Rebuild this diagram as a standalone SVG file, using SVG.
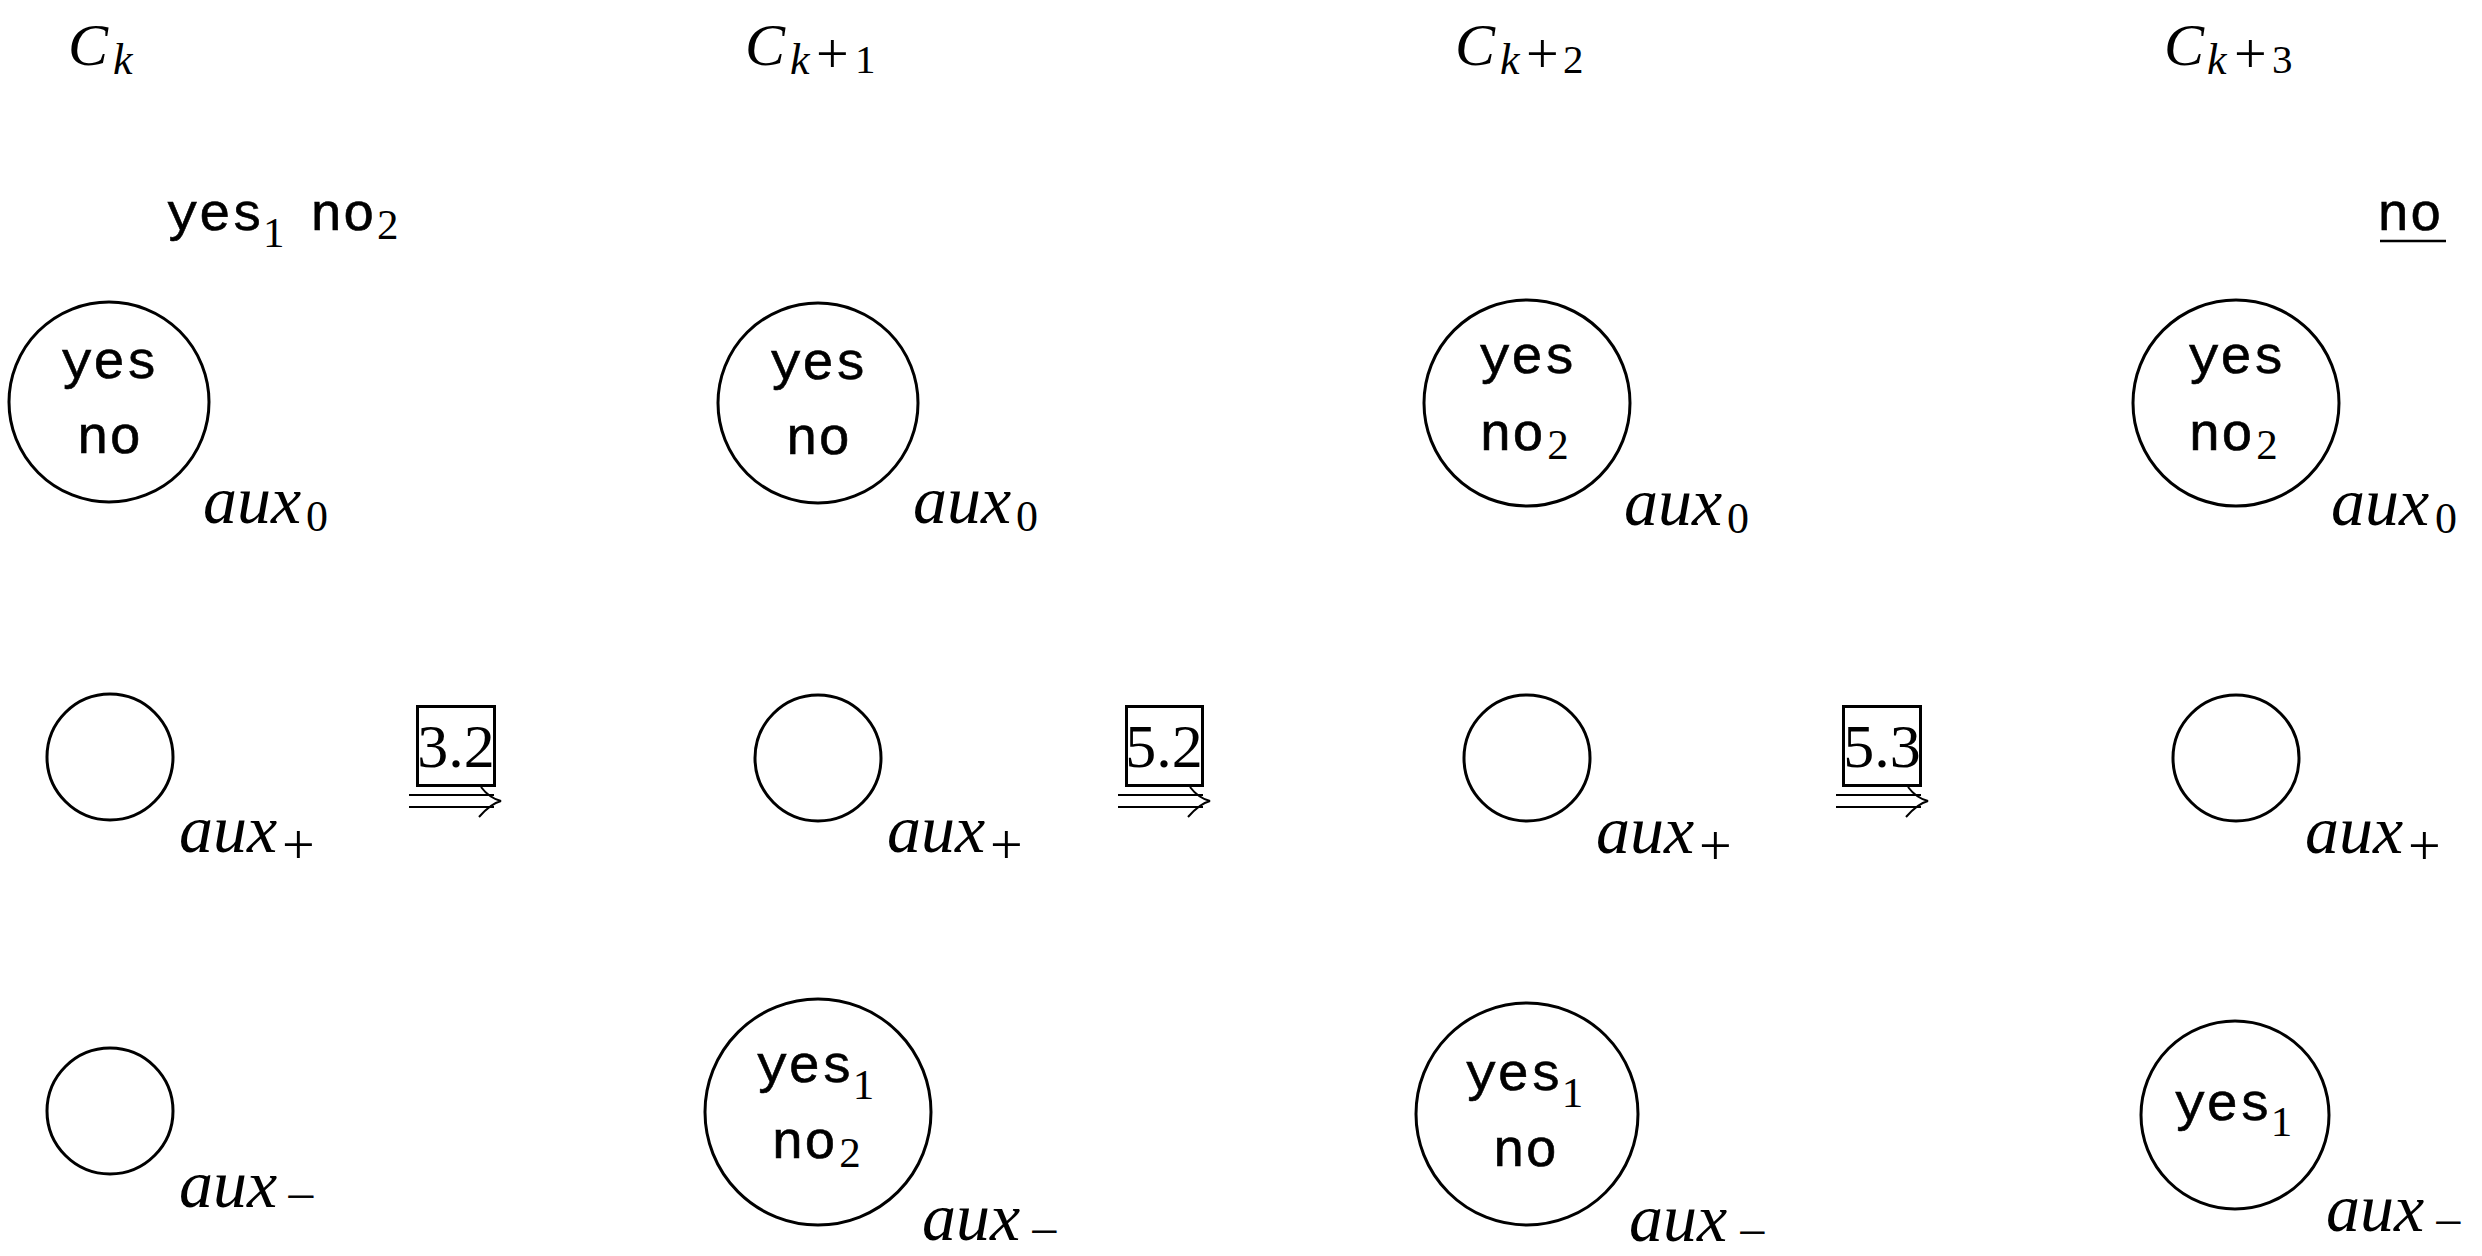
<svg xmlns="http://www.w3.org/2000/svg" xmlns:xlink="http://www.w3.org/1999/xlink" width="2482" height="1256" viewBox="0 0 2482 1256">
<style>
.mi{font-family:"Liberation Serif",serif;font-style:italic;fill:#000}
.rm{font-family:"Liberation Serif",serif;fill:#000}
.tt{font-family:"Liberation Mono",monospace;font-size:54px;fill:#000;stroke:#000;stroke-width:0.6}
.sub{font-family:"Liberation Serif",serif;font-size:43px;stroke:none}
.c{fill:none;stroke:#000;stroke-width:3}
.box{fill:none;stroke:#000;stroke-width:3}
.arr{fill:none;stroke:#000;stroke-width:2}
.aux{font-size:68px}
.C{font-size:60px}
.k{font-size:44px}
.sd{font-size:41px}
.sp{font-size:58px}
.mn{font-size:34px;stroke:#000;stroke-width:0.9}
</style>
<defs>
<g id="dblarrow">
<path class="arr" d="M409,795 H494 M409,807 H494 M481,787 C487,795 493,799 501,801 C493,803 486,809 479,817"/>
</g>
</defs>
<rect width="2482" height="1256" fill="#fff"/>

<!-- headers -->
<g id="hdr-k">
<text class="mi C" x="68" y="65">C</text><text class="mi k" x="113" y="74">k</text>
</g>
<g id="hdr-k1">
<text class="mi C" x="745" y="65">C</text><text class="mi k" x="790" y="74">k</text><text class="rm sp" x="816" y="73">+</text><text class="rm sd" x="855" y="73">1</text>
</g>
<g id="hdr-k2">
<text class="mi C" x="1455" y="65">C</text><text class="mi k" x="1500" y="74">k</text><text class="rm sp" x="1526" y="73">+</text><text class="rm sd" x="1563" y="73">2</text>
</g>
<g id="hdr-k3">
<text class="mi C" x="2164" y="65">C</text><text class="mi k" x="2207" y="74">k</text><text class="rm sp" x="2234" y="73">+</text><text class="rm sd" x="2272" y="73">3</text>
</g>

<g id="pending-k">
<text class="tt" x="166" y="230">yes</text><text class="sub" x="263" y="247">1</text>
<text class="tt" x="310" y="230">no</text><text class="sub" x="377" y="239">2</text>
</g>
<g id="pending-k3">
<text class="tt" x="2377" y="230">no</text>
<line x1="2380" y1="241" x2="2446" y2="241" stroke="#000" stroke-width="2.5"/>
</g>

<!-- column C_k -->
<g id="k-aux0">
<circle class="c" cx="109" cy="402" r="100"/>
<text class="tt" x="109" y="378" text-anchor="middle">yes</text>
<text class="tt" x="109" y="453" text-anchor="middle">no</text>
<text class="mi aux" x="203" y="523">aux</text><text class="rm k" x="306" y="531">0</text>
</g>
<g id="k-auxp">
<circle class="c" cx="110" cy="757" r="63"/>
<text class="mi aux" x="179" y="852">aux</text><text class="rm sp" x="282" y="864">+</text>
</g>
<g id="k-auxm">
<circle class="c" cx="110" cy="1111" r="63"/>
<text class="mi aux" x="179" y="1207">aux</text><text class="rm mn" x="286" y="1208" textLength="29" lengthAdjust="spacingAndGlyphs">−</text>
</g>

<!-- column C_k+1 -->
<g id="k1-aux0">
<circle class="c" cx="818" cy="403" r="100"/>
<text class="tt" x="818" y="379" text-anchor="middle">yes</text>
<text class="tt" x="818" y="454" text-anchor="middle">no</text>
<text class="mi aux" x="913" y="523">aux</text><text class="rm k" x="1016" y="531">0</text>
</g>
<g id="k1-auxp">
<circle class="c" cx="818" cy="758" r="63"/>
<text class="mi aux" x="887" y="852">aux</text><text class="rm sp" x="990" y="864">+</text>
</g>
<g id="k1-auxm">
<circle class="c" cx="818" cy="1112" r="113"/>
<text class="tt" x="815" y="1082" text-anchor="middle">yes<tspan class="sub" dy="17">1</tspan></text>
<text class="tt" x="816" y="1158" text-anchor="middle">no<tspan class="sub" dx="3" dy="9">2</tspan></text>
<text class="mi aux" x="922" y="1240">aux</text><text class="rm mn" x="1030" y="1243" textLength="28" lengthAdjust="spacingAndGlyphs">−</text>
</g>

<!-- column C_k+2 -->
<g id="k2-aux0">
<circle class="c" cx="1527" cy="403" r="103"/>
<text class="tt" x="1527" y="373" text-anchor="middle">yes</text>
<text class="tt" x="1524" y="450" text-anchor="middle">no<tspan class="sub" dx="3" dy="9">2</tspan></text>
<text class="mi aux" x="1624" y="525">aux</text><text class="rm k" x="1727" y="533">0</text>
</g>
<g id="k2-auxp">
<circle class="c" cx="1527" cy="758" r="63"/>
<text class="mi aux" x="1596" y="853">aux</text><text class="rm sp" x="1699" y="865">+</text>
</g>
<g id="k2-auxm">
<circle class="c" cx="1527" cy="1114" r="111"/>
<text class="tt" x="1524" y="1090" text-anchor="middle">yes<tspan class="sub" dy="17">1</tspan></text>
<text class="tt" x="1525" y="1166" text-anchor="middle">no</text>
<text class="mi aux" x="1629" y="1241">aux</text><text class="rm mn" x="1738" y="1244" textLength="28" lengthAdjust="spacingAndGlyphs">−</text>
</g>

<!-- column C_k+3 -->
<g id="k3-aux0">
<circle class="c" cx="2236" cy="403" r="103"/>
<text class="tt" x="2236" y="373" text-anchor="middle">yes</text>
<text class="tt" x="2233" y="450" text-anchor="middle">no<tspan class="sub" dx="3" dy="9">2</tspan></text>
<text class="mi aux" x="2331" y="525">aux</text><text class="rm k" x="2435" y="533">0</text>
</g>
<g id="k3-auxp">
<circle class="c" cx="2236" cy="758" r="63"/>
<text class="mi aux" x="2305" y="853">aux</text><text class="rm sp" x="2408" y="865">+</text>
</g>
<g id="k3-auxm">
<circle class="c" cx="2235" cy="1115" r="94"/>
<text class="tt" x="2233" y="1120" text-anchor="middle">yes<tspan class="sub" dy="16">1</tspan></text>
<text class="mi aux" x="2326" y="1231">aux</text><text class="rm mn" x="2434" y="1234" textLength="28" lengthAdjust="spacingAndGlyphs">−</text>
</g>

<!-- transition labels -->
<g id="t1">
<rect class="box" x="417.5" y="706.5" width="77" height="79"/>
<text class="rm" x="456" y="767" font-size="62" text-anchor="middle">3.2</text>
</g>
<g id="t2">
<rect class="box" x="1126.5" y="706.5" width="76" height="79"/>
<text class="rm" x="1164" y="767" font-size="62" text-anchor="middle">5.2</text>
</g>
<g id="t3">
<rect class="box" x="1843.5" y="706.5" width="77" height="79"/>
<text class="rm" x="1882" y="767" font-size="62" text-anchor="middle">5.3</text>
</g>

<g id="connectors">
<use xlink:href="#dblarrow"/>
<use xlink:href="#dblarrow" transform="translate(709,0)"/>
<use xlink:href="#dblarrow" transform="translate(1427,0)"/>
</g>
</svg>
